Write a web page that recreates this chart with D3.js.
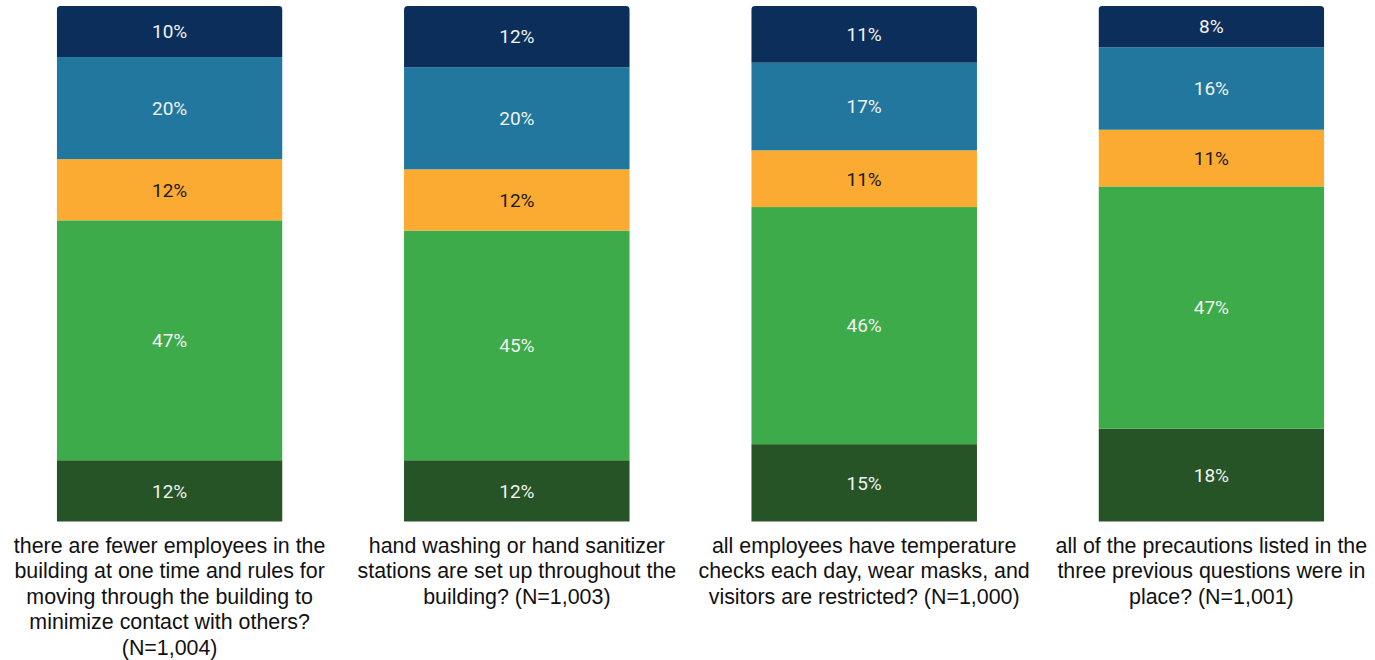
<!DOCTYPE html>
<html><head><meta charset="utf-8">
<script src="https://cdn.jsdelivr.net/npm/d3@7"></script>
<style>body{margin:0;background:#fff;}svg{display:block;}</style>
</head><body>
<svg id="chart" width="1375" height="660"></svg>
<script>
const categories = ["q1","q2","q3","q4"];
const categoryLines = [
  ["there are fewer employees in the","building at one time and rules for","moving through the building to","minimize contact with others?","(N=1,004)"],
  ["hand washing or hand sanitizer","stations are set up throughout the","building? (N=1,003)"],
  ["all employees have temperature","checks each day, wear masks, and","visitors are restricted? (N=1,000)"],
  ["all of the precautions listed in the","three previous questions were in","place? (N=1,001)"]
];
// stacked bottom -> top
const seriesNames = ["s1","s2","s3","s4","s5"];
const s1 = [12,12,15,18];
const s2 = [47,45,46,47];
const s3 = [12,12,11,11];
const s4 = [20,20,17,16];
const s5 = [10,12,11,8];
const seriesValues = [s1,s2,s3,s4,s5];
const colors = ["#265426","#3dab4a","#fbab32","#22779e","#0b2f5a"];
const labelColors = ["#f2f2f2","#f2f2f2","#1a1a1a","#f2f2f2","#f2f2f2"];

const svg = d3.select("#chart");
const x = d3.scaleBand().domain(categories).range([-4,1385]).paddingInner(0.35).paddingOuter(0.175);
const y = d3.scaleLinear().domain([0,1]).range([521.5,6]);

const rows = categories.map((c,i)=>{
  const o = {cat:c};
  const tot = d3.sum(seriesValues, s=>s[i]);
  seriesNames.forEach((n,j)=>{ o[n] = seriesValues[j][i]/tot; o[n+"_raw"] = seriesValues[j][i]; });
  return o;
});
const stack = d3.stack().keys(seriesNames)(rows);

const defs = svg.append("defs");
categories.forEach((c,i)=>{
  defs.append("clipPath").attr("id","clip"+i).append("rect")
    .attr("x",x(c)).attr("y",y(1)).attr("width",x.bandwidth()).attr("height",y(0)-y(1)+6).attr("rx",4);
});

stack.forEach((layer,j)=>{
  const g = svg.append("g");
  layer.forEach((d,i)=>{
    g.append("rect")
      .attr("clip-path",`url(#clip${i})`)
      .attr("x",x(categories[i]))
      .attr("y",y(d[1]))
      .attr("width",x.bandwidth())
      .attr("height",y(d[0])-y(d[1]))
      .attr("fill",colors[j]);
    g.append("text")
      .attr("x",x(categories[i])+x.bandwidth()/2)
      .attr("y",(y(d[0])+y(d[1]))/2)
      .attr("dy","0.36em")
      .attr("text-anchor","middle")
      .attr("font-family","Roboto, sans-serif")
      .attr("font-size",19)
      .attr("fill",labelColors[j])
      .text(rows[i][layer.key+"_raw"]+"%");
  });
});

categories.forEach((c,i)=>{
  const t = svg.append("text")
    .attr("text-anchor","middle")
    .attr("font-family","'Liberation Sans', Arial, sans-serif")
    .attr("font-size",21.4)
    .attr("fill","#111");
  categoryLines[i].forEach((line,k)=>{
    t.append("tspan").attr("x",x(c)+x.bandwidth()/2).attr("y",552.5+k*25.5).text(line);
  });
});
</script>
</body></html>
